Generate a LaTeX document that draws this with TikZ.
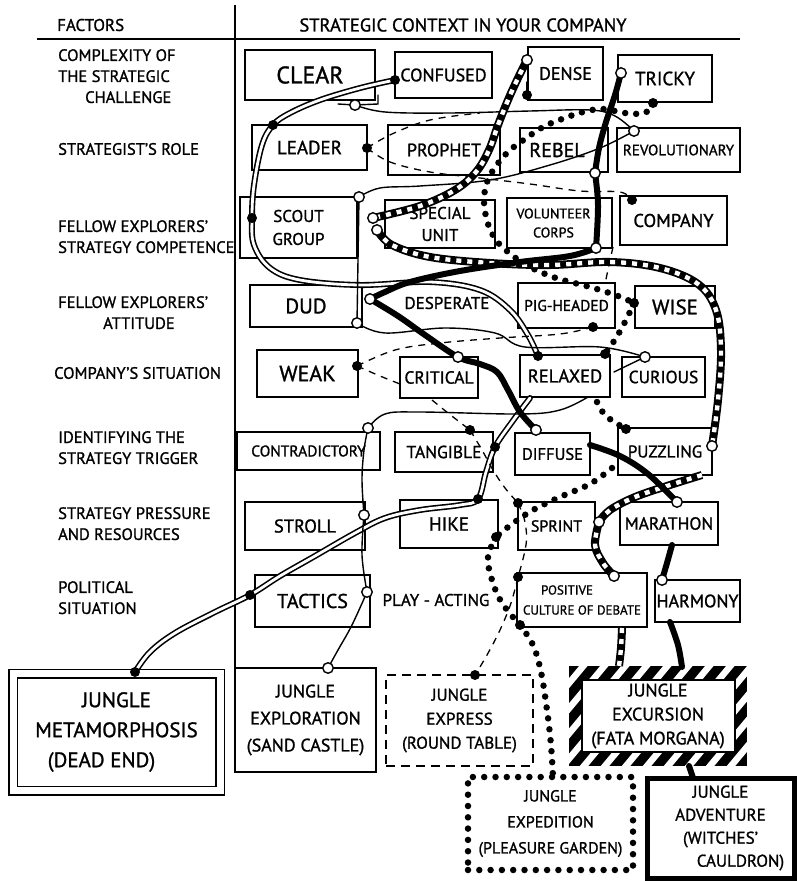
\documentclass[tikz,border=0pt]{standalone}
\usepackage{fontspec}
\setmainfont{PT Sans}[UprightFeatures={FakeBold=1.2}]
\usetikzlibrary{calc}
\newcommand\fsz[2]{\fontsize{#1}{#2}\selectfont}
\begin{document}
\begin{tikzpicture}[x=1pt, y=-1pt,
  optbox/.style={draw, line width=1.6pt, fill=white, inner sep=0pt, align=center},
  factor/.style={inner sep=0pt, align=left, font=\fsz{16.5}{21}},
  loose/.style={inner sep=0pt, align=center},
  outcome/.style={inner sep=0pt, align=center},
  dbl/.style={line width=6pt, line cap=round, postaction={draw=white, line width=2.8pt, line cap=round}},
  thinline/.style={line width=1.4pt, line cap=round},
  dashline/.style={line width=1.3pt, dash pattern=on 7pt off 6pt},
  dotline/.style={line width=6.5pt, line cap=round, dash pattern=on 0pt off 11pt},
  stripeline/.style={line width=8pt, postaction={draw=white, line width=4.4pt, dash pattern=on 5pt off 6pt}},
  heavyline/.style={line width=6pt, line cap=round},
  jdot/.style={circle, fill=black, inner sep=0pt, minimum size=10pt},
  jring/.style={circle, draw=black, fill=white, line width=1.4pt, inner sep=0pt, minimum size=10.5pt},
]
\useasboundingbox (0,0) rectangle (797,881);

% ---------- header and grid ----------
\node[anchor=west, inner sep=0pt, font=\fsz{17}{20}] (hfactors) at (57,25) {FACTORS};
\node[inner sep=0pt, font=\fsz{18.5}{20}] (hcontext) at (463,25) {STRATEGIC CONTEXT IN YOUR COMPANY};
\draw[line width=1.6pt] (37,39) -- (740,39);
\draw[line width=1.6pt] (235,5) -- (235,668);

% ---------- factors ----------
\node[factor, anchor=north west] (f1) at (58,49) {COMPLEXITY OF\\THE STRATEGIC\\\hspace*{27pt}CHALLENGE};
\node[factor, anchor=west] (f2) at (58,149) {STRATEGIST'S ROLE};
\node[factor, anchor=north west] (f3) at (58,220) {FELLOW EXPLORERS'\\STRATEGY COMPETENCE};
\node[factor, anchor=north west] (f4) at (58,296) {FELLOW EXPLORERS'\\\hspace*{45pt}ATTITUDE};
\node[factor, anchor=west] (f5) at (54,373) {COMPANY'S SITUATION};
\node[factor, anchor=north west] (f6) at (58,431) {IDENTIFYING THE\\STRATEGY TRIGGER};
\node[factor, anchor=north west] (f7) at (58,507) {STRATEGY PRESSURE\\AND RESOURCES};
\node[factor, anchor=north west] (f8) at (58,581) {POLITICAL\\SITUATION};

% ---------- options ----------
\node[optbox, minimum width=130pt, minimum height=50pt, font=\fsz{24}{24}] (clear) at (310,75) {CLEAR};
\node[optbox, minimum width=97pt, minimum height=46pt, font=\fsz{18}{18}] (confused) at (443.5,75) {CONFUSED};
\node[optbox, minimum width=75pt, minimum height=53pt, font=\fsz{18}{18}] (dense) at (565.5,73.5) {DENSE};
\node[optbox, minimum width=94pt, minimum height=47pt, font=\fsz{19}{19}] (tricky) at (665,78.5) {TRICKY};

\node[optbox, minimum width=115pt, minimum height=45pt, font=\fsz{19}{19}] (leader) at (309.5,147.5) {LEADER};
\node[optbox, minimum width=112pt, minimum height=50pt, font=\fsz{18}{18}] (prophet) at (444,150) {PROPHET};
\node[optbox, minimum width=88pt, minimum height=44pt, font=\fsz{20}{20}] (rebel) at (564,150) {REBEL\hspace*{14pt}};
\node[optbox, minimum width=123pt, minimum height=44pt, font=\fsz{15}{15}] (revolutionary) at (678.5,150) {REVOLUTIONARY};

\node[optbox, minimum width=117pt, minimum height=61pt, font=\fsz{17}{23}] (scout) at (298.5,227.5) {SCOUT\\GROUP};
\node[optbox, minimum width=110pt, minimum height=48pt, font=\fsz{17}{22}] (special) at (440,224) {SPECIAL\\UNIT};
\node[optbox, minimum width=105pt, minimum height=50pt, font=\fsz{14}{19}] (volunteer) at (559.5,223) {VOLUNTEER\hspace*{12pt}\\CORPS\hspace*{12pt}};
\node[optbox, minimum width=107pt, minimum height=49pt, font=\fsz{18.5}{18.5}] (company) at (673.5,220.5) {COMPANY};

\node[optbox, minimum width=112pt, minimum height=42pt, font=\fsz{21}{21}] (dud) at (306,306) {DUD};
\node[loose, font=\fsz{17}{17}] (desperate) at (447,303) {DESPERATE};
\node[optbox, minimum width=97pt, minimum height=45pt, font=\fsz{15.5}{15.5}] (pigheaded) at (566.5,305.5) {PIG-HEADED};
\node[optbox, minimum width=80pt, minimum height=42pt, font=\fsz{21}{21}] (wise) at (675,307) {WISE};

\node[optbox, minimum width=101pt, minimum height=47pt, font=\fsz{22}{22}] (weak) at (307.5,373.5) {WEAK};
\node[optbox, minimum width=78pt, minimum height=41pt, font=\fsz{17.5}{17.5}] (critical) at (439,377.5) {CRITICAL};
\node[optbox, minimum width=90pt, minimum height=42pt, font=\fsz{18.5}{18.5}] (relaxed) at (565,376) {RELAXED};
\node[optbox, minimum width=83pt, minimum height=40pt, font=\fsz{17.5}{17.5}] (curious) at (663.5,377) {CURIOUS};

\node[optbox, minimum width=143pt, minimum height=38pt, font=\fsz{15.5}{15.5}] (contradictory) at (308.5,451) {CONTRADICTORY};
\node[optbox, minimum width=98pt, minimum height=40pt, font=\fsz{17.5}{17.5}] (tangible) at (444,452) {TANGIBLE};
\node[optbox, minimum width=75pt, minimum height=42pt, font=\fsz{16.5}{16.5}] (diffuse) at (552.5,454) {DIFFUSE};
\node[optbox, minimum width=94pt, minimum height=47pt, font=\fsz{17}{17}] (puzzling) at (665,451.5) {PUZZLING};

\node[optbox, minimum width=120pt, minimum height=48pt, font=\fsz{18.5}{18.5}] (stroll) at (305,526) {STROLL};
\node[optbox, minimum width=98pt, minimum height=48pt, font=\fsz{19}{19}] (hike) at (449,524) {HIKE};
\node[optbox, minimum width=77pt, minimum height=48pt, font=\fsz{16}{16}] (sprint) at (556.5,526) {SPRINT};
\node[optbox, minimum width=98pt, minimum height=43pt, font=\fsz{17.5}{17.5}] (marathon) at (669,523.5) {MARATHON};

\node[optbox, minimum width=115pt, minimum height=52pt, font=\fsz{20}{20}] (tactics) at (312.5,601) {TACTICS};
\node[loose, font=\fsz{17}{17}] (playacting) at (436,600) {PLAY - ACTING};
\node[optbox, minimum width=130pt, minimum height=54pt, font=\fsz{13}{20}] (positive) at (582,600) {POSITIVE\hspace*{30pt}\\CULTURE OF DEBATE};
\node[optbox, minimum width=85pt, minimum height=42pt, font=\fsz{18}{18}] (harmony) at (697.5,601) {HARMONY};

% ---------- outcomes ----------
\node[outcome, draw, double, double distance=7pt, line width=1.5pt, minimum width=207pt, minimum height=117pt, font=\fsz{21}{30}] (metamorphosis) at (116.5,732) {JUNGLE\\METAMORPHOSIS\\(DEAD END)\hspace*{30pt}};
\node[outcome, draw, line width=2.6pt, minimum width=141pt, minimum height=104pt, font=\fsz{18}{27}] (exploration) at (305.5,720) {JUNGLE\\EXPLORATION\\(SAND CASTLE)};
\node[outcome, draw, line width=2pt, dash pattern=on 9pt off 6pt, minimum width=147pt, minimum height=91pt, font=\fsz{17}{24}] (express) at (459.5,720.5) {JUNGLE\\EXPRESS\\(ROUND TABLE)};
% striped frame of the excursion box
\fill (569,666) rectangle (747,766);
\begin{scope}
  \clip (569,666) rectangle (747,766);
  \foreach \s in {0,...,16} \draw[white, line width=6.5pt] ({480+\s*21},790) -- ++(110,-132);
\end{scope}
\draw[line width=1.6pt, fill=white] (582,680) rectangle (735,752);
\node[outcome, minimum width=178pt, minimum height=100pt, font=\fsz{18}{24}] (excursion) at (658,716) {JUNGLE\\EXCURSION\\(FATA MORGANA)};
\node[outcome, draw, line width=6.5pt, line cap=round, dash pattern=on 0pt off 11.3pt, minimum width=165pt, minimum height=93pt, font=\fsz{16}{26}] (expedition) at (550.5,823.5) {JUNGLE\\EXPEDITION\\(PLEASURE GARDEN)};
\node[outcome, draw, line width=5pt, minimum width=147pt, minimum height=100pt, font=\fsz{17}{23}] (adventure) at (720.5,828) {JUNGLE\\ADVENTURE\\(WITCHES'\hspace*{34pt}\\\hspace*{40pt}CAULDRON)};

% ---------- junction points ----------
% double line
\coordinate (a1) at (395,80);   \coordinate (a2) at (273,125);
\coordinate (a3) at (252,218);  \coordinate (a4) at (538,356);
\coordinate (a5) at (495,447);  \coordinate (a6) at (478,499);
\coordinate (a7) at (250,595);  \coordinate (a8) at (135,672);
% thin line
\coordinate (b1) at (355,105);  \coordinate (b2) at (634,131);
\coordinate (b3) at (359,197);  \coordinate (b4) at (357,323);
\coordinate (b5) at (645,357);  \coordinate (b6) at (368,428);
\coordinate (b7) at (364,515);  \coordinate (b8) at (367,592);
\coordinate (b9) at (328,668);
% dashed line
\coordinate (c1) at (367,148);  \coordinate (c2) at (632,200);
\coordinate (c3) at (593,327);  \coordinate (c4) at (357,366);
\coordinate (c5) at (470,430);  \coordinate (c6) at (518,503);
\coordinate (c7) at (518,577);  \coordinate (c8) at (475,675);
% dotted line
\coordinate (d1) at (653,103);  \coordinate (d2) at (634,303);
\coordinate (d3) at (605,354);  \coordinate (d4) at (626,429);
\coordinate (d5) at (496,537);  \coordinate (d6) at (520,625);
\coordinate (dn) at (527,95);
% striped line
\coordinate (e1) at (527,60);   \coordinate (e2) at (373,218);
\coordinate (e3) at (377,230);  \coordinate (e4) at (712,446);
\coordinate (e5) at (599,522);  \coordinate (e6) at (614,576);
% heavy line
\coordinate (g1) at (621,73);   \coordinate (g2) at (595,173);
\coordinate (g3) at (596,248);  \coordinate (g4) at (370,299);
\coordinate (g5) at (458,357);  \coordinate (g6) at (536,430);
\coordinate (g7) at (677,502);  \coordinate (g8) at (662,580);

% ---------- route to the dead end (double line) ----------
\draw[dbl] plot[smooth, tension=0.6] coordinates {(a1) (360,88) (320,100) (290,113) (a2) (262,145) (254,185) (a3) (254,245) (270,268) (300,280) (360,285) (430,282) (480,290) (510,310) (528,335) (a4)};
\draw[dbl] plot[smooth, tension=0.6] coordinates {(530,398) (512,422) (a5) (486,472) (a6) (460,505) (420,510) (385,518) (355,533) (315,556) (280,576) (a7) (215,612) (175,633) (150,652) (a8)};

% ---------- route to the sand castle (thin line) ----------
\draw[thinline] (338,104) -- (b1) -- (378,104) -- (378,95);
\draw[thinline] plot[smooth, tension=0.6] coordinates {(b1) (385,112) (450,113) (530,111) (590,110) (615,116) (b2)};
\draw[thinline] plot[smooth, tension=0.6] coordinates {(b2) (600,148) (550,165) (490,180) (420,186) (380,188) (b3)};
\draw[thinline] (b3) -- (b4);
\draw[thinline] plot[smooth, tension=0.6] coordinates {(b4) (385,333) (445,328) (495,333) (525,347) (600,347) (b5)};
\draw[thinline] (b5) -- (614,372);
\draw[thinline] plot[smooth, tension=0.6] coordinates {(588,397) (560,410) (520,414) (420,412) (385,414) (b6)};
\draw[thinline] plot[smooth, tension=0.6] coordinates {(b6) (364,450) (362,480) (b7)};
\draw[thinline] plot[smooth, tension=0.6] coordinates {(b7) (362,555) (b8)};
\draw[thinline] plot[smooth, tension=0.6] coordinates {(b8) (352,625) (338,650) (b9)};
\draw[thinline] (dn) -- (527,82);

% ---------- route to the round table (dashed line) ----------
\draw[dashline] plot[smooth, tension=0.6] coordinates {(c1) (390,162) (430,172) (480,178) (530,184) (580,191) (620,192) (c2)};
\draw[dashline] plot[smooth, tension=0.6] coordinates {(c1) (392,134) (430,120) (480,113)};
\draw[dashline] plot[smooth, tension=0.6] coordinates {(613,247) (609,265) (605,284)};
\draw[dashline] plot[smooth, tension=0.6] coordinates {(c3) (560,334) (500,338) (440,343) (395,350) (c4)};
\draw[dashline] plot[smooth, tension=0.6] coordinates {(c4) (380,376) (400,384)};
\draw[dashline] plot[smooth, tension=0.6] coordinates {(432,400) (448,413) (c5)};
\draw[dashline] plot[smooth, tension=0.6] coordinates {(c5) (482,450) (493,470) (505,488) (c6)};
\draw[dashline] plot[smooth, tension=0.6] coordinates {(c6) (525,522) (526,545) (c7)};
\draw[dashline] plot[smooth, tension=0.6] coordinates {(c7) (511,603) (500,630) (487,655) (c8)};

% ---------- route to the pleasure garden (dotted line) ----------
\draw[dotline] plot[smooth, tension=0.6] coordinates {(d1) (645,113) (625,113) (603,109) (583,112) (562,119) (543,127) (525,139) (509,151) (496,166) (487,182) (484,202) (488,224) (496,240) (508,252) (528,266) (556,278) (590,287) (618,296) (d2)};
\draw[dotline] plot[smooth, tension=0.6] coordinates {(d2) (626,320) (616,338) (d3)};
\draw[dotline] plot[smooth, tension=0.6] coordinates {(597,402) (606,416) (d4)};
\draw[dotline] plot[smooth, tension=0.6] coordinates {(612,468) (590,484) (560,497) (533,510) (512,524) (d5)};
\draw[dotline] plot[smooth, tension=0.6] coordinates {(d5) (488,557) (492,580) (502,603) (d6)};
\draw[dotline] plot[smooth, tension=0.6] coordinates {(d6) (533,645) (541,672) (547,710) (551,745) (553,777)};

% ---------- route to the fata morgana (striped line) ----------
\draw[stripeline] plot[smooth, tension=0.6] coordinates {(e1) (518,78) (508,100) (498,125) (489,150) (476,172) (455,190) (420,206) (e2)};
\draw[stripeline] plot[smooth, tension=0.6] coordinates {(e3) (392,245) (430,257) (490,263) (550,265) (610,262) (660,268) (698,284) (716,310) (721,350) (718,400) (e4)};
\draw[stripeline] plot[smooth, tension=0.6] coordinates {(702,475) (670,485) (635,497) (610,510) (e5)};
\draw[stripeline] plot[smooth, tension=0.6] coordinates {(e5) (595,545) (603,563) (e6)};
\draw[stripeline] plot[smooth, tension=0.6] coordinates {(622,628) (621,648) (619,666)};

% ---------- route to the witches' cauldron (heavy line) ----------
\draw[heavyline] plot[smooth, tension=0.6] coordinates {(g1) (615,95) (606,122) (599,148) (g2)};
\draw[heavyline] plot[smooth, tension=0.6] coordinates {(g2) (598,205) (g3)};
\draw[heavyline] plot[smooth, tension=0.6] coordinates {(g3) (570,256) (520,262) (460,271) (410,282) (385,292) (g4)};
\draw[heavyline] plot[smooth, tension=0.6] coordinates {(g4) (398,316) (425,335) (g5) (480,364) (497,372) (508,390) (520,412) (g6)};
\draw[heavyline] plot[smooth, tension=0.6] coordinates {(590,445) (620,456) (648,474) (g7)};
\draw[heavyline] plot[smooth, tension=0.6] coordinates {(672,545) (667,563) (g8)};
\draw[heavyline] plot[smooth, tension=0.6] coordinates {(670,622) (678,645) (682,667)};
\draw[heavyline] (689,766) -- (693,778);

% ---------- junction marks ----------
\foreach \p in {a1,a2,a3,a4,a5,a6,a7,a8,c1,c2,c3,c4,c5,c6,c7,c8,d1,d2,d3,d4,d5,d6,dn}
  \node[jdot] (\p m) at (\p) {};
\foreach \p in {b1,b2,b3,b4,b5,b6,b7,b8,b9,e1,e2,e3,e4,e5,e6,g1,g2,g3,g4,g5,g6,g7,g8}
  \node[jring] (\p m) at (\p) {};
\end{tikzpicture}
\end{document}
